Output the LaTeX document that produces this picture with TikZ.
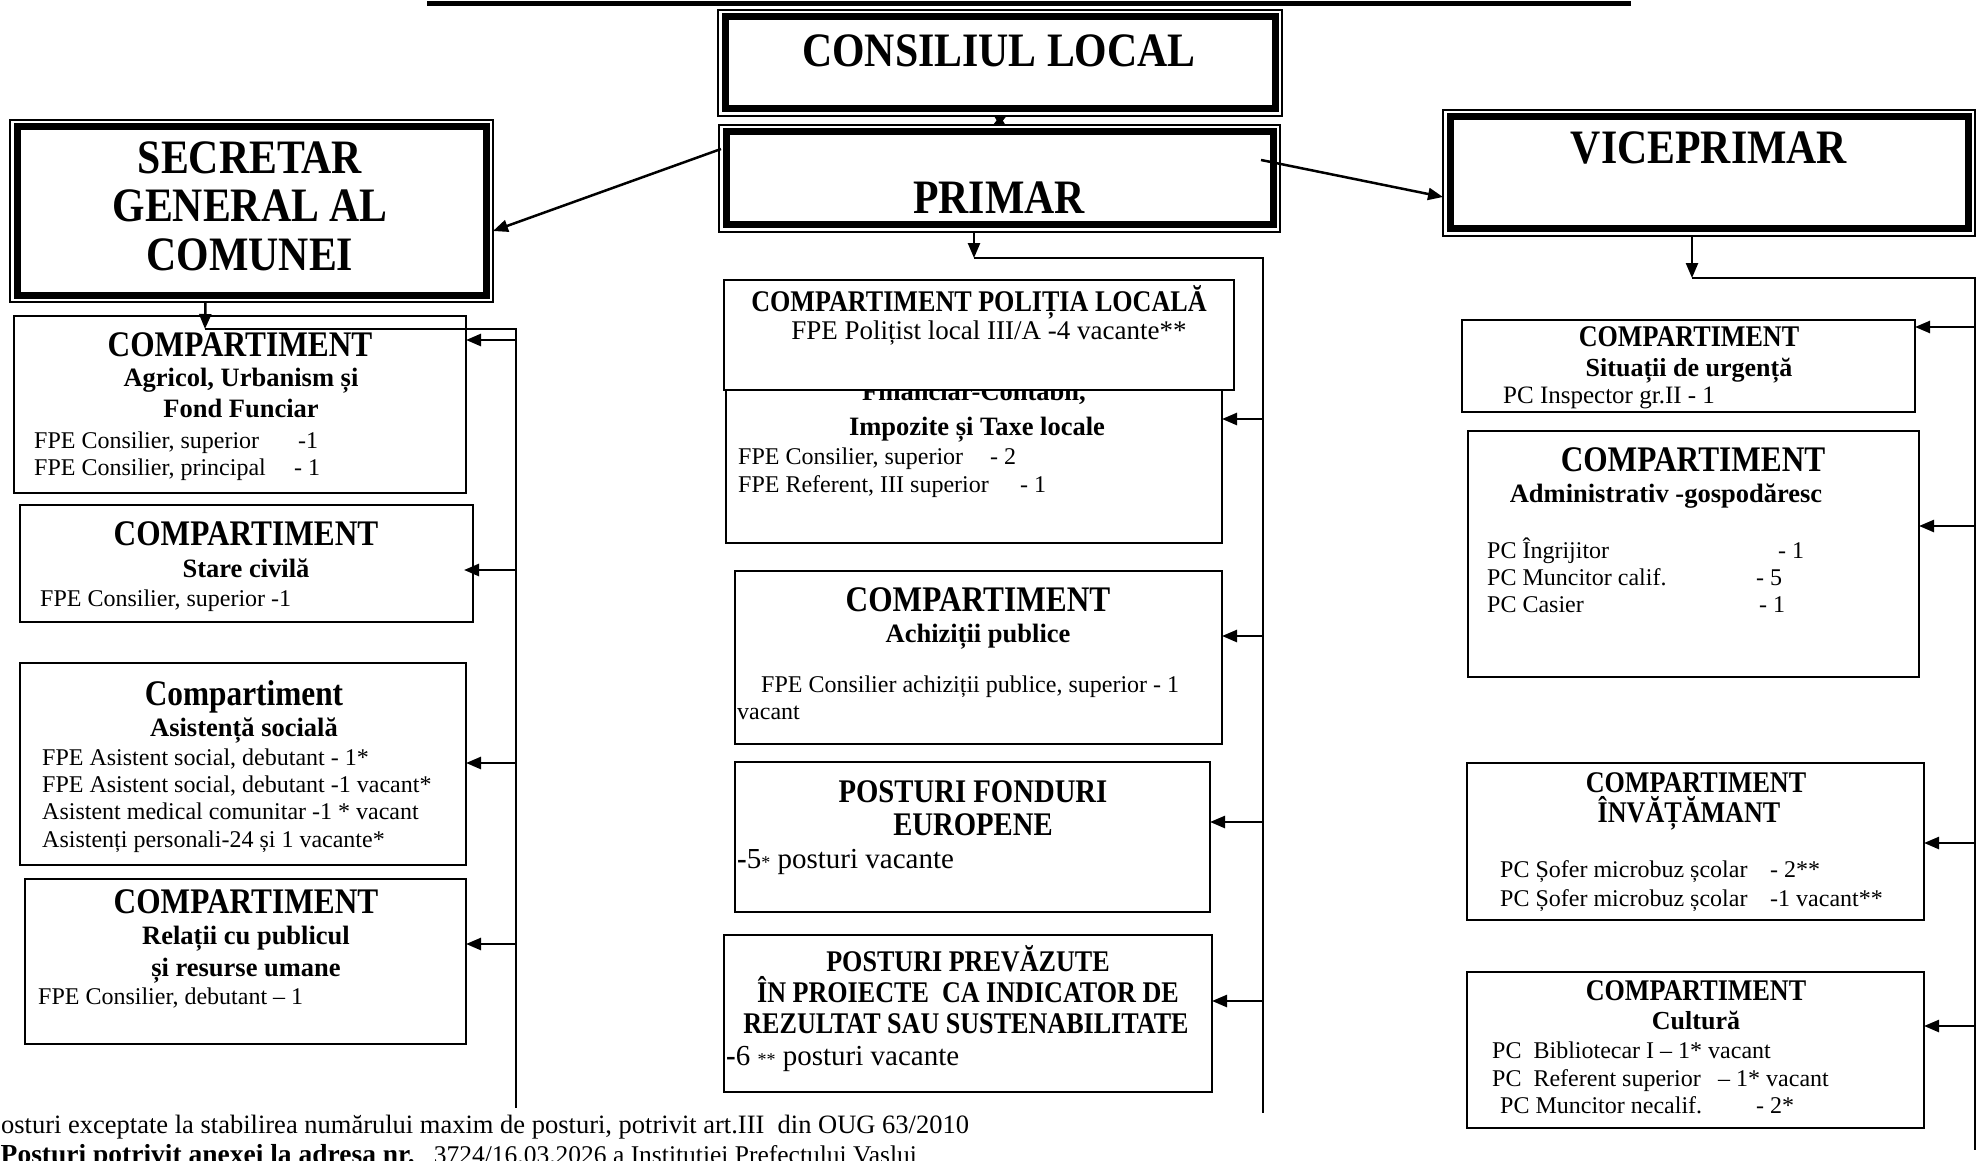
\documentclass[tikz,border=0pt]{standalone}
\usepackage{fontspec}
\setmainfont{Liberation Serif}
\newfontfamily\condf{Liberation Serif}[FakeStretch=0.87]
\usetikzlibrary{arrows.meta}
\tikzset{
  box/.style={draw, line width=2pt, fill=white, inner sep=0pt, outer sep=0pt, anchor=north west},
  tbox/.style={draw, line width=1.5pt, fill=white, inner sep=0pt, outer sep=0pt, anchor=north west},
  thick in/.style={line width=7pt},
  ttl/.style={font={\condf\bfseries\fontsize{48}{48.5}\selectfont}, align=center, inner sep=0pt, anchor=center},
  hdA/.style={font={\condf\bfseries\fontsize{36}{36}\selectfont}, inner sep=0pt, anchor=mid, yshift=-9pt},
  hdB/.style={font={\condf\bfseries\fontsize{30}{30}\selectfont}, inner sep=0pt, anchor=mid, yshift=-8pt},
  sub/.style={font={\bfseries\fontsize{26.5}{26.5}\selectfont}, inner sep=0pt, anchor=mid, yshift=-6pt},
  txt/.style={font={\fontsize{24}{24}\selectfont}, inner sep=0pt, anchor=mid west, yshift=-6pt},
  arr/.style={-{Triangle[length=15pt,width=12pt]}, line width=2.5pt},
  bus/.style={line width=2pt},
}
\begin{document}
\begin{tikzpicture}[x=1pt,y=-1pt]
\useasboundingbox[fill=white] (0,0) rectangle (1981,1161);

% top rule
\draw[line width=5pt] (427,4) -- (1631,4);

% ---- title boxes ----
\node[tbox, minimum width=564, minimum height=106] (cons) at (718,10) {};
\draw[thick in] ([shift={(7,7)}]cons.north west) rectangle ([shift={(-7,-7)}]cons.south east);
\node[tbox, minimum width=561, minimum height=107] (prim) at (719,125) {};
\draw[thick in] ([shift={(7,7)}]prim.north west) rectangle ([shift={(-7,-7)}]prim.south east);
\node[tbox, minimum width=483, minimum height=182] (sec) at (10,120) {};
\draw[thick in] ([shift={(7,7)}]sec.north west) rectangle ([shift={(-7,-7)}]sec.south east);
\node[tbox, minimum width=532, minimum height=126] (vice) at (1443,110) {};
\draw[thick in] ([shift={(7,7)}]vice.north west) rectangle ([shift={(-7,-7)}]vice.south east);

\node[ttl] (tcons) at (999,51) {CONSILIUL LOCAL};
\node[ttl] (tprim) at (999,198) {PRIMAR};
\node[ttl] (tvice) at (1709,148) {VICEPRIMAR};
\node[ttl] (tsec) at (250,206) {SECRETAR\\GENERAL AL\\COMUNEI};

% ---- left column ----
\node[box, minimum width=452, minimum height=177] (agr) at (14,316) {};
\node[hdA] (agr1) at (240,345) {COMPARTIMENT};
\node[sub] (agr2) at (241,378) {Agricol, Urbanism și};
\node[sub] (agr3) at (241,409) {Fond Funciar};
\node[txt] (agr4) at (34,440) {\makebox[264pt][l]{FPE Consilier, superior}-1};
\node[txt] (agr5) at (34,467) {\makebox[260pt][l]{FPE Consilier, principal}- 1};

\node[box, minimum width=453, minimum height=117] (stc) at (20,505) {};
\node[hdA] (stc1) at (246,534) {COMPARTIMENT};
\node[sub] (stc2) at (246,569) {Stare civilă};
\node[txt] (stc3) at (40,598) {FPE Consilier, superior -1};

\node[box, minimum width=446, minimum height=202] (asi) at (20,663) {};
\node[hdA] (asi1) at (244,694) {Compartiment};
\node[sub] (asi2) at (244,728) {Asistență socială};
\node[txt] (asi3) at (42,757) {FPE Asistent social, debutant - 1*};
\node[txt] (asi4) at (42,784) {FPE Asistent social, debutant -1 vacant*};
\node[txt] (asi5) at (42,811) {Asistent medical comunitar -1 * vacant};
\node[txt] (asi6) at (42,839) {Asistenți personali-24 și 1 vacante*};

\node[box, minimum width=441, minimum height=165] (rel) at (25,879) {};
\node[hdA] (rel1) at (246,902) {COMPARTIMENT};
\node[sub] (rel2) at (246,936) {Relații cu publicul};
\node[sub] (rel3) at (246,968) {și resurse umane};
\node[txt] (rel4) at (38,996) {FPE Consilier, debutant – 1};

% ---- middle column ----
\node[box, minimum width=496, minimum height=203] (fin) at (726,340) {};
\node[sub] (fin1) at (974,392) {Financiar-Contabil,};
\node[sub] (fin2) at (977,427) {Impozite și Taxe locale};
\node[txt] (fin3) at (738,456) {\makebox[252pt][l]{FPE Consilier, superior}- 2};
\node[txt] (fin4) at (738,484) {\makebox[282pt][l]{FPE Referent, III superior}- 1};

\node[box, minimum width=510, minimum height=110] (pol) at (724,280) {};
\node[hdB] (pol1) at (979,301) {COMPARTIMENT POLIȚIA LOCALĂ};
\node[txt, anchor=mid, font={\fontsize{27}{27}\selectfont}] (pol2) at (989,331) {FPE Polițist local III/A -4 vacante**};

\node[box, minimum width=487, minimum height=173] (ach) at (735,571) {};
\node[hdA] (ach1) at (978,600) {COMPARTIMENT};
\node[sub] (ach2) at (978,634) {Achiziții publice};
\node[txt] (ach3) at (761,684) {FPE Consilier achiziții publice, superior - 1};
\node[txt] (ach4) at (737,711) {vacant};

\node[box, minimum width=475, minimum height=150] (fon) at (735,762) {};
\node[hdA, font={\condf\bfseries\fontsize{33}{33}\selectfont}] (fon1) at (973,791) {POSTURI FONDURI};
\node[hdA, font={\condf\bfseries\fontsize{33}{33}\selectfont}] (fon2) at (973,824) {EUROPENE};
\node[txt, font={\fontsize{29}{29}\selectfont}] (fon3) at (737,860) {\textbf{-}5{\fontsize{18}{18}\selectfont*} posturi vacante};

\node[box, minimum width=488, minimum height=157] (pre) at (724,935) {};
\node[hdB] (pre1) at (968,961) {POSTURI PREVĂZUTE};
\node[hdB] (pre2) at (968,992) {ÎN PROIECTE~~CA INDICATOR DE};
\node[hdB] (pre3) at (966,1023) {REZULTAT SAU SUSTENABILITATE};
\node[txt, font={\fontsize{29}{29}\selectfont}] (pre4) at (726,1057) {\textbf{-}6 {\fontsize{18}{18}\selectfont**} posturi vacante};

% ---- right column ----
\node[box, minimum width=453, minimum height=92] (sit) at (1462,320) {};
\node[hdB] (sit1) at (1689,336) {COMPARTIMENT};
\node[sub, font={\bfseries\fontsize{26}{26}\selectfont}] (sit2) at (1689,368) {Situații de urgență};
\node[txt, font={\fontsize{25}{25}\selectfont}] (sit3) at (1503,395) {PC Inspector gr.II - 1};

\node[box, minimum width=451, minimum height=246] (adm) at (1468,431) {};
\node[hdA] (adm1) at (1693,460) {COMPARTIMENT};
\node[sub] (adm2) at (1666,494) {Administrativ -gospodăresc};
\node[txt] (adm3) at (1487,550) {\makebox[291pt][l]{PC Îngrijitor}- 1};
\node[txt] (adm4) at (1487,577) {\makebox[269pt][l]{PC Muncitor calif.}- 5};
\node[txt] (adm5) at (1487,604) {\makebox[272pt][l]{PC Casier}- 1};

\node[box, minimum width=457, minimum height=157] (inv) at (1467,763) {};
\node[hdB] (inv1) at (1696,782) {COMPARTIMENT};
\node[hdB] (inv2) at (1689,812) {ÎNVĂȚĂMANT};
\node[txt] (inv3) at (1500,869) {\makebox[270pt][l]{PC Șofer microbuz școlar}- 2**};
\node[txt] (inv4) at (1500,898) {\makebox[270pt][l]{PC Șofer microbuz școlar}-1 vacant**};

\node[box, minimum width=457, minimum height=156] (cul) at (1467,972) {};
\node[hdB] (cul1) at (1696,990) {COMPARTIMENT};
\node[sub, font={\bfseries\fontsize{26}{26}\selectfont}] (cul2) at (1696,1021) {Cultură};
\node[txt] (cul3) at (1492,1050) {PC~~Bibliotecar I – 1* vacant};
\node[txt] (cul4) at (1492,1078) {\makebox[226pt][l]{PC~~Referent superior}– 1* vacant};
\node[txt] (cul5) at (1500,1105) {\makebox[256pt][l]{PC Muncitor necalif.}- 2*};

% ---- connectors ----
\draw[{Triangle[length=9pt,width=12pt]}-{Triangle[length=9pt,width=12pt]}, line width=1.5pt] (cons.south) -- (prim.north);
\coordinate (p2s) at ([shift={(2,24)}]prim.north west);
\coordinate (p2v) at ([shift={(-19,35)}]prim.north east);
\draw[arr] (p2s) -- ([yshift=-20pt]sec.east);
\draw[arr] (p2v) -- ([yshift=-24pt]vice.west);

% left bus
\coordinate (sb) at (205,329);
\coordinate (sbe) at (516,1108);
\draw[arr] ([xshift=-46pt]sec.south) -- (sb);
\draw[bus] (sb) -| (sbe);
\draw[arr] (sbe |- 0,340) -- (agr.east |- 0,340);
\draw[arr] (sbe |- 0,570) -- (464,570);
\draw[arr] (sbe |- 0,763) -- (asi.east |- 0,763);
\draw[arr] (sbe |- 0,944) -- (rel.east |- 0,944);

% middle bus
\coordinate (mb) at (974,258);
\coordinate (mbe) at (1263,1113);
\draw[arr] ([xshift=-25.5pt]prim.south) -- (mb);
\draw[bus] (mb) -| (mbe);
\draw[arr] (mbe |- 0,419) -- (fin.east |- 0,419);
\draw[arr] (mbe |- 0,636) -- (ach.east |- 0,636);
\draw[arr] (mbe |- 0,822) -- (fon.east |- 0,822);
\draw[arr] (mbe |- 0,1001) -- (pre.east |- 0,1001);

% right bus
\coordinate (vb) at (1692,278);
\coordinate (vbe) at (1975,1150);
\draw[arr] ([xshift=-17pt]vice.south) -- (vb);
\draw[bus] (vb) -| (vbe);
\draw[arr] (vbe |- 0,327) -- (sit.east |- 0,327);
\draw[arr] (vbe |- 0,526) -- (adm.east |- 0,526);
\draw[arr] (vbe |- 0,843) -- (inv.east |- 0,843);
\draw[arr] (vbe |- 0,1026) -- (cul.east |- 0,1026);

% ---- footnotes ----
\node[anchor=base west, inner sep=0pt, font={\fontsize{26.5}{26.5}\selectfont}] (fn1) at (-27,1133) {*Posturi exceptate la stabilirea numărului maxim de posturi, potrivit art.III~~din OUG 63/2010};
\node[anchor=base west, inner sep=0pt, font={\fontsize{25.5}{25.5}\selectfont}] (fn2) at (-27,1163) {{\bfseries\fontsize{27.5}{27.5}\selectfont **Posturi potrivit anexei la adresa nr.}~~~3724/16.03.2026 a Instituției Prefectului Vaslui};
\end{tikzpicture}
\end{document}
